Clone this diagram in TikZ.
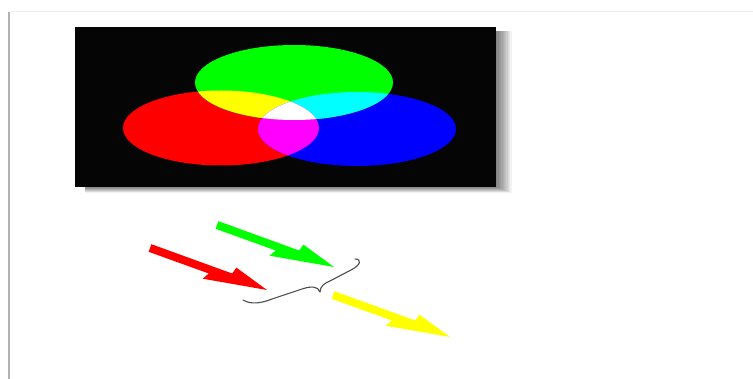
\documentclass[tikz,border=0pt]{standalone}
\begin{document}
\begin{tikzpicture}[x=1pt,y=-1pt,
  fatarrow/.pic={\fill[#1] (1.4,-3.8) -- (82.2,25.5) -- (86.4,19.6) -- (117,42) -- (52.7,30.7) -- (58.8,25.5) -- (-1.4,3.8) -- cycle;},
  bracestyle/.style={draw=black!70, line width=1.1pt, line cap=round, line join=round}]
\definecolor{pR}{rgb}{1,0,0}
\definecolor{pG}{rgb}{0,1,0}
\definecolor{pB}{rgb}{0,0,1}
\definecolor{pY}{rgb}{1,1,0}
\definecolor{pC}{rgb}{0,1,1}
\definecolor{pM}{rgb}{1,0,1}
\useasboundingbox (0,0) rectangle (753,379);
\fill[white] (0,0) rectangle (753,379);
% page frame
\draw[black!6, line width=1pt] (9,11.5) -- (753,11.5);
\draw[black!30, line width=2pt] (9,12) -- (9,379);
% shadow of the panel
\foreach \i in {1,...,12}
  \fill[black, opacity=0.05] (85,31) rectangle (496+\i*1.3, 187+\i*0.5);
% black panel
\fill[black!98] (75,27) rectangle (496,187);
% RGB ellipses
\def\Rell{(221,128) ellipse [x radius=98, y radius=37.5]}
\def\Gell{(294,82.5) ellipse [x radius=99, y radius=37.5]}
\def\Bell{(357,129) ellipse [x radius=99, y radius=37]}
\fill[pR] \Rell;
\fill[pB] \Bell;
\fill[pG] \Gell;
\begin{scope}\clip \Rell; \fill[pY] \Gell; \end{scope}
\begin{scope}\clip \Gell; \fill[pC] \Bell; \end{scope}
\begin{scope}\clip \Rell; \fill[pM] \Bell; \end{scope}
\begin{scope}\clip \Rell; \clip \Gell; \fill[white] \Bell; \end{scope}
% arrows
\pic at (150,248) {fatarrow=pR};
\pic at (217,225) {fatarrow=pG};
\pic at (333,295) {fatarrow=pY};
% brace
\draw[bracestyle] (243,300) .. controls (251,305) and (262,303) .. (272,299)
  -- (302,289) .. controls (311,286) and (318,286) .. (320,292)
  .. controls (320,286) and (325,283) .. (330,281)
  -- (351,270) .. controls (361,265) and (362,259) .. (355,259);
\end{tikzpicture}
\end{document}
